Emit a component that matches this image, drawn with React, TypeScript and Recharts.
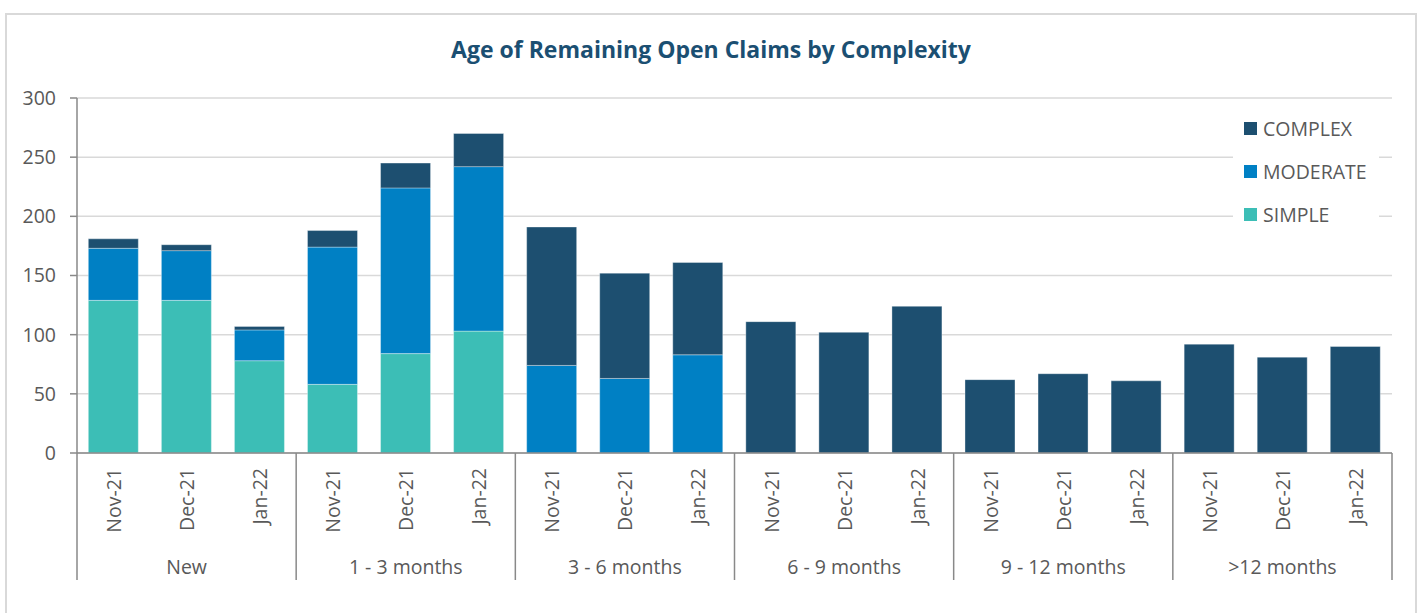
import { BarChart, Bar, XAxis, YAxis, CartesianGrid } from 'recharts';

const months = [
  'Nov-21', 'Dec-21', 'Jan-22',
  'Nov-21', 'Dec-21', 'Jan-22',
  'Nov-21', 'Dec-21', 'Jan-22',
  'Nov-21', 'Dec-21', 'Jan-22',
  'Nov-21', 'Dec-21', 'Jan-22',
  'Nov-21', 'Dec-21', 'Jan-22',
];
const groups = ['New', '1 - 3 months', '3 - 6 months', '6 - 9 months', '9 - 12 months', '>12 months'];

const simple = [129, 129, 78, 58, 84, 103, 0, 0, 0, 0, 0, 0, 0, 0, 0, 0, 0, 0];
const moderate = [44, 42, 26, 116, 140, 139, 74, 63, 83, 0, 0, 0, 0, 0, 0, 0, 0, 0];
const complex = [8, 5, 3, 14, 21, 28, 117, 89, 78, 111, 102, 124, 62, 67, 61, 92, 81, 90];

const yTicks = [0, 50, 100, 150, 200, 250, 300];

const C_COMPLEX = '#1D4F70';
const C_MODERATE = '#0080C4';
const C_SIMPLE = '#3CBEB6';
const AXIS = '#898989';
const TXT = '#595959';
const FONT = '"Open Sans", sans-serif';
const FS = 19.5;

const W = 1422;
const H = 613;
const PLOT_LEFT = 77;
const PLOT_RIGHT = 1392;
const BAND = (PLOT_RIGHT - PLOT_LEFT) / months.length;
const X_AXIS_H = 127;

const data = months.map((m, i) => ({
  month: m,
  group: groups[Math.floor(i / 3)],
  simple: simple[i],
  moderate: moderate[i],
  complex: complex[i],
}));

const legendItems = [
  { label: 'COMPLEX', color: C_COMPLEX },
  { label: 'MODERATE', color: C_MODERATE },
  { label: 'SIMPLE', color: C_SIMPLE },
];

// month label + group separators + group name, all drawn per tick
const MonthTick = (props: any) => {
  const { x, y, payload, index } = props;
  const i = index ?? payload.index;
  const left = x - BAND / 2;
  const right = x + BAND / 2;
  return (
    <g>
      <text
        x={x}
        y={y + 15}
        transform={`rotate(-90, ${x}, ${y + 15})`}
        textAnchor="end"
        dominantBaseline="central"
        fill={TXT}
        fontSize={FS}
        fontFamily={FONT}
      >
        {payload.value}
      </text>
      {i % 3 === 0 && <line x1={left} x2={left} y1={y} y2={y + X_AXIS_H} stroke={AXIS} strokeWidth={1.5} />}
      {i === months.length - 1 && (
        <line x1={right} x2={right} y1={y} y2={y + X_AXIS_H} stroke={AXIS} strokeWidth={1.5} />
      )}
      {i % 3 === 1 && (
        <text x={x} y={y + 113} textAnchor="middle" dominantBaseline="central" fill={TXT} fontSize={FS} fontFamily={FONT}>
          {groups[Math.floor(i / 3)]}
        </text>
      )}
    </g>
  );
};

export default function App() {
  return (
    <div style={{ position: 'absolute', left: 0, top: 0, width: W, height: H, background: '#fff', overflow: 'hidden' }}>
      <div
        style={{
          position: 'absolute',
          left: 5,
          top: 13,
          width: 1412,
          height: 640,
          border: '2px solid #D9D9D9',
          boxSizing: 'border-box',
        }}
      />
      <div
        style={{
          position: 'absolute',
          left: 0,
          top: 33,
          width: 1422,
          textAlign: 'center',
          fontFamily: FONT,
          fontWeight: 700,
          fontSize: 23,
          color: '#1B4F72',
        }}
      >
        Age of Remaining Open Claims by Complexity
      </div>
      <div style={{ position: 'absolute', left: 0, top: 0 }}>
        <BarChart
          width={W}
          height={H}
          data={data}
          margin={{ top: 98, right: W - PLOT_RIGHT, bottom: H - 453 - X_AXIS_H, left: 0 }}
          barCategoryGap="15.5%"
        >
          <CartesianGrid vertical={false} stroke="#D9D9D9" strokeWidth={1.5} />
          <XAxis
            dataKey="month"
            interval={0}
            tickLine={false}
            tickSize={0}
            tickMargin={0}
            height={X_AXIS_H}
            axisLine={{ stroke: AXIS, strokeWidth: 1.5 }}
            tick={<MonthTick />}
          />
          <YAxis
            width={PLOT_LEFT}
            domain={[0, 300]}
            ticks={yTicks}
            interval={0}
            tickSize={7}
            tickMargin={14}
            tickLine={{ stroke: AXIS, strokeWidth: 1.5 }}
            axisLine={{ stroke: AXIS, strokeWidth: 1.5 }}
            tick={{ fill: TXT, fontSize: FS, fontFamily: FONT }}
          />
          <Bar dataKey="simple" name="SIMPLE" stackId="a" fill={C_SIMPLE} stroke="#ffffff" strokeOpacity={0.35} strokeWidth={1} isAnimationActive={false} />
          <Bar dataKey="moderate" name="MODERATE" stackId="a" fill={C_MODERATE} stroke="#ffffff" strokeOpacity={0.35} strokeWidth={1} isAnimationActive={false} />
          <Bar dataKey="complex" name="COMPLEX" stackId="a" fill={C_COMPLEX} stroke="#ffffff" strokeOpacity={0.35} strokeWidth={1} isAnimationActive={false} />
        </BarChart>
      </div>
      {/* legend sits over the plot with a white box that hides the gridlines */}
      <div
        style={{
          position: 'absolute',
          left: 1233,
          top: 100,
          width: 146,
          background: '#fff',
          padding: '7px 0 7px 11px',
          boxSizing: 'border-box',
        }}
      >
        {legendItems.map((it) => (
          <div key={it.label} style={{ display: 'flex', alignItems: 'center', height: 43 }}>
            <span style={{ display: 'inline-block', width: 13, height: 13, background: it.color, marginRight: 6 }} />
            <span style={{ fontFamily: FONT, fontSize: FS, color: TXT }}>{it.label}</span>
          </div>
        ))}
      </div>
    </div>
  );
}
